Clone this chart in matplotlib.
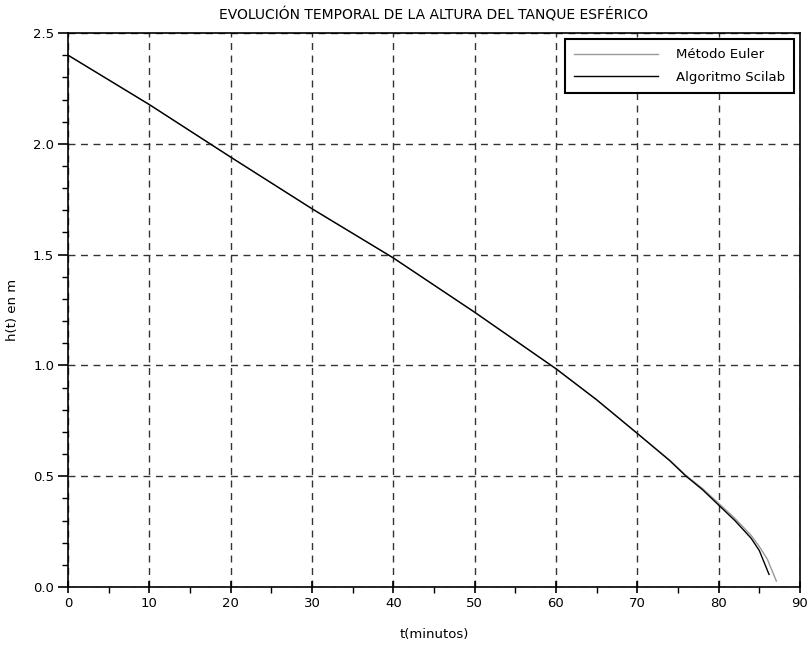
import numpy as np
import matplotlib
matplotlib.use("Agg")
import matplotlib.pyplot as plt
from matplotlib.ticker import MultipleLocator, FormatStrFormatter

plt.rcParams['font.family'] = ['DejaVu Sans']

# values
t_scilab = [0, 10, 20, 30, 40, 50, 60, 65, 70, 74, 76, 78, 80, 82, 84, 85, 86.2]
h_scilab = [2.40, 2.177, 1.94, 1.707, 1.485, 1.24, 0.985, 0.845, 0.693, 0.57,
            0.50, 0.44, 0.37, 0.30, 0.22, 0.165, 0.057]

t_euler = [0, 10, 20, 30, 40, 50, 60, 65, 70, 74, 76, 78, 80, 82, 84, 85, 86, 87.1]
h_euler = [2.40, 2.177, 1.94, 1.707, 1.485, 1.24, 0.985, 0.845, 0.694, 0.572,
           0.503, 0.445, 0.378, 0.31, 0.233, 0.183, 0.125, 0.027]

fig = plt.figure(figsize=(8.08, 6.45), dpi=100)
ax = fig.add_axes([0.0842, 0.0899, 0.9058, 0.8589])

ax.plot(t_euler, h_euler, color='#999999', linewidth=1.0, label='Método Euler')
ax.plot(t_scilab, h_scilab, color='black', linewidth=1.0, label='Algoritmo Scilab')

ax.set_xlim(0, 90)
ax.set_ylim(0, 2.5)
ax.xaxis.set_major_locator(MultipleLocator(10))
ax.xaxis.set_minor_locator(MultipleLocator(5))
ax.yaxis.set_major_locator(MultipleLocator(0.5))
ax.yaxis.set_minor_locator(MultipleLocator(0.1))
ax.yaxis.set_major_formatter(FormatStrFormatter('%.1f'))

ax.grid(True, which='major', color='#333333', linestyle=(0, (5, 4)), linewidth=1.0)

ax.tick_params(axis='x', which='major', direction='inout', length=9, width=1.2,
               labelsize=9.5, pad=3)
ax.tick_params(axis='x', which='minor', direction='out', length=4, width=1.0)
ax.tick_params(axis='y', which='major', direction='out', length=7, width=1.2,
               labelsize=9.5, pad=3)
ax.tick_params(axis='y', which='minor', direction='out', length=4, width=1.0)
for s in ax.spines.values():
    s.set_linewidth(1.2)

ax.set_title('EVOLUCIÓN TEMPORAL DE LA ALTURA DEL TANQUE ESFÉRICO', fontsize=10, pad=10)
ax.set_xlabel('t(minutos)', fontsize=9.5, labelpad=13)
ax.set_ylabel('h(t) en m', fontsize=9.5, labelpad=10)

leg = ax.legend(loc='upper right', fontsize=9.5, handlelength=6.4, handletextpad=1.3,
                fancybox=False, edgecolor='black', framealpha=1,
                borderaxespad=0.45, borderpad=0.7, labelspacing=0.75)
leg.get_frame().set_linewidth(1.5)

fig.savefig('out.png', dpi=100)
